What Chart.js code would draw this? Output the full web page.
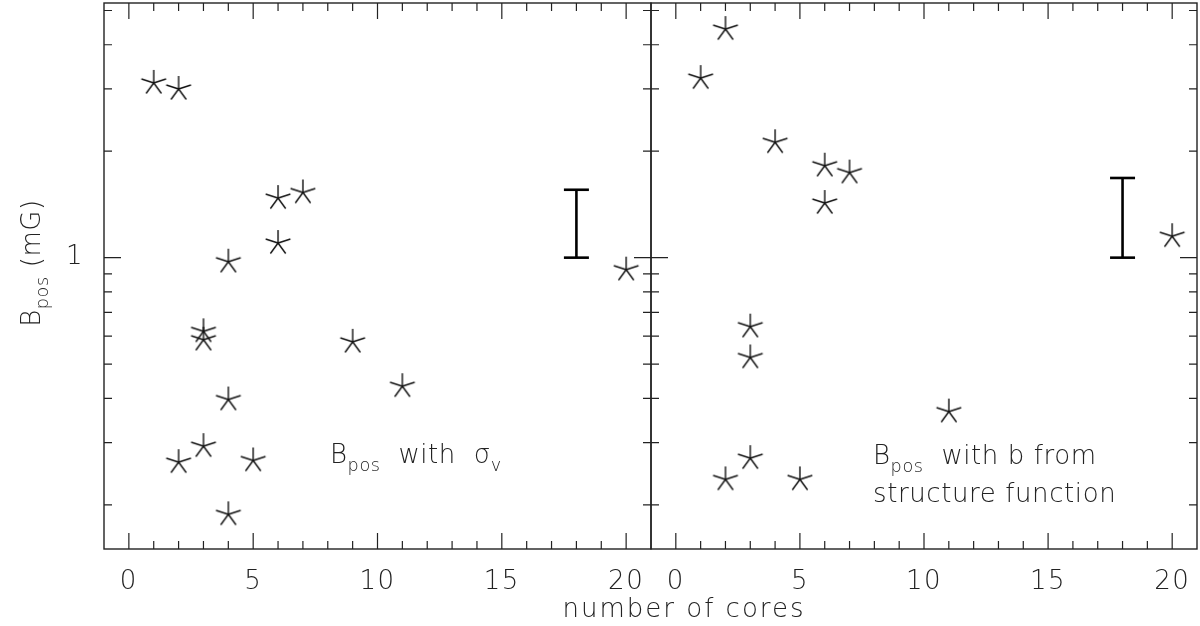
<!DOCTYPE html>
<html>
<head>
<meta charset="utf-8">
<script src="https://cdn.jsdelivr.net/npm/chart.js@4.4.1/dist/chart.umd.min.js"></script>
<style>
  html, body { margin: 0; background: #fff; }
  #wrap { position: relative; width: 1200px; height: 626px; }
  #wrap canvas { position: absolute; left: 0; top: 0; }
</style>
</head>
<body>
<div id="wrap">
  <canvas id="leftChart" width="1200" height="626"></canvas>
  <canvas id="rightChart" width="1200" height="626"></canvas>
</div>
<script>
// values (B_pos in mG vs number of cores)
const leftCores = [1, 2, 2, 3, 3, 3, 4, 4, 4, 5, 6, 6, 7, 9, 11, 20];
const leftB = [3.12, 3.0, 0.264, 0.619, 0.586, 0.293, 0.974, 0.397, 0.188, 0.267, 1.474, 1.10, 1.529, 0.578, 0.433, 0.925];

const rightCores = [1, 2, 2, 3, 3, 3, 4, 5, 6, 6, 7, 11, 20];
const rightB = [3.22, 4.43, 0.236, 0.638, 0.522, 0.271, 2.12, 0.236, 1.82, 1.427, 1.74, 0.367, 1.15];

// typical uncertainty bar drawn in each panel
const errCores = [18, 18];
const leftErr = [1, 1.556];
const rightErr = [1, 1.68];

// axes
const X_MIN = -1, X_MAX = 21;
const Y_MIN = 0.15, Y_MAX = 5.25;
const xMajor = [0, 5, 10, 15, 20];
const xLabels = ["0", "5", "10", "15", "20"];
const yMinor = [0.2, 0.3, 0.4, 0.5, 0.6, 0.7, 0.8, 0.9, 2, 3, 4, 5];
const yMajor = [1];
const yLabels = ["1"];

const INK = "#222";
const FONT = "'DejaVu Sans', 'Liberation Sans', sans-serif";

// five-armed asterisk used as point style
function makeStar(r) {
  const c = document.createElement("canvas");
  c.width = c.height = 2 * r + 4;
  const g = c.getContext("2d");
  g.strokeStyle = "#111";
  g.lineWidth = 1.4;
  g.beginPath();
  for (let k = 0; k < 5; k++) {
    const a = -Math.PI / 2 + k * 2 * Math.PI / 5;
    g.moveTo(c.width / 2, c.height / 2);
    g.lineTo(c.width / 2 + r * Math.cos(a), c.height / 2 + r * Math.sin(a));
  }
  g.stroke();
  return c;
}
const star = makeStar(13);

function setFont(ctx, size) {
  ctx.font = `200 ${size}px ${FONT}`;
}

// text with subscripts: segs = [[text, isSub], ...]
function richWidth(ctx, segs, size) {
  let w = 0;
  for (const [t, sub] of segs) {
    setFont(ctx, sub ? size * 0.68 : size);
    w += ctx.measureText(t).width;
  }
  return w;
}
function drawRich(ctx, segs, x, y, size) {
  for (const [t, sub] of segs) {
    setFont(ctx, sub ? size * 0.68 : size);
    ctx.fillText(t, x, sub ? y + size * 0.32 : y);
    x += ctx.measureText(t).width;
  }
}

const framePlugin = {
  id: "frame",
  afterDraw(chart, args, opts) {
    const { ctx, chartArea: a } = chart;
    const x = chart.scales.x, y = chart.scales.y;
    ctx.save();
    ctx.strokeStyle = INK;
    ctx.lineWidth = 1.4;
    ctx.strokeRect(a.left, a.top, a.right - a.left, a.bottom - a.top);

    ctx.lineWidth = 1.2;
    ctx.beginPath();
    for (let v = X_MIN + 1; v < X_MAX; v++) {
      const px = x.getPixelForValue(v);
      const len = xMajor.includes(v) ? 16 : 8;
      ctx.moveTo(px, a.bottom); ctx.lineTo(px, a.bottom - len);
      ctx.moveTo(px, a.top); ctx.lineTo(px, a.top + len);
    }
    for (const v of yMinor.concat(yMajor)) {
      const py = y.getPixelForValue(v);
      const len = yMajor.includes(v) ? 17 : 8;
      ctx.moveTo(a.left, py); ctx.lineTo(a.left + len, py);
      ctx.moveTo(a.right, py); ctx.lineTo(a.right - len, py);
    }
    ctx.stroke();

    ctx.fillStyle = INK;
    ctx.letterSpacing = "1.5px";
    setFont(ctx, 26);
    ctx.textAlign = "center";
    ctx.textBaseline = "alphabetic";
    xMajor.forEach((v, i) => ctx.fillText(xLabels[i], x.getPixelForValue(v), 589));

    if (opts.yLabels) {
      ctx.textAlign = "right";
      ctx.textBaseline = "middle";
      yMajor.forEach((v, i) => ctx.fillText(yLabels[i], 84, y.getPixelForValue(v)));
    }

    ctx.textAlign = "left";
    ctx.textBaseline = "alphabetic";
    ctx.letterSpacing = "0.6px";
    for (const n of opts.notes || []) drawRich(ctx, n.segs, n.x, n.y, 26);

    if (opts.titles) {
      ctx.letterSpacing = "2px";
      const xt = [["number of cores", false]];
      const wx = richWidth(ctx, xt, 26);
      drawRich(ctx, xt, 684 - wx / 2, 617, 26);

      ctx.letterSpacing = "0.6px";
      const yt = [["B", false], ["pos", true], [" (mG)", false]];
      const wy = richWidth(ctx, yt, 26);
      ctx.translate(40, 263 + wy / 2);
      ctx.rotate(-Math.PI / 2);
      drawRich(ctx, yt, 0, 0, 26);
    }
    ctx.restore();
  }
};

function panel(canvasId, xs, bs, errs, padding, frameOpts) {
  return new Chart(document.getElementById(canvasId), {
    type: "scatter",
    data: {
      datasets: [
        {
          data: xs.map((c, i) => ({ x: c, y: bs[i] })),
          pointStyle: star,
          pointRadius: 13,
          pointHoverRadius: 13
        },
        {
          data: errCores.map((c, i) => ({ x: c, y: errs[i] })),
          showLine: true,
          borderColor: "#000",
          borderWidth: 2.6,
          pointStyle: "line",
          pointRadius: 12.5,
          pointBorderWidth: 2.6,
          pointBorderColor: "#000"
        }
      ]
    },
    options: {
      responsive: false,
      animation: false,
      layout: { padding, autoPadding: false },
      plugins: { legend: { display: false }, tooltip: { enabled: false }, frame: frameOpts },
      scales: {
        x: { type: "linear", min: X_MIN, max: X_MAX, display: false },
        y: { type: "logarithmic", min: Y_MIN, max: Y_MAX, display: false }
      }
    },
    plugins: [framePlugin]
  });
}

panel("leftChart", leftCores, leftB, leftErr,
  { left: 104, right: 549, top: 3, bottom: 77 },
  {
    yLabels: true,
    titles: true,
    notes: [{ x: 330, y: 463, segs: [["B", false], ["pos", true], ["  with  σ", false], ["v", true]] }]
  });

panel("rightChart", rightCores, rightB, rightErr,
  { left: 651, right: 3, top: 3, bottom: 77 },
  {
    yLabels: false,
    titles: false,
    notes: [
      { x: 873, y: 464, segs: [["B", false], ["pos", true], ["  with b from", false]] },
      { x: 873, y: 502, segs: [["structure function", false]] }
    ]
  });
</script>
</body>
</html>
